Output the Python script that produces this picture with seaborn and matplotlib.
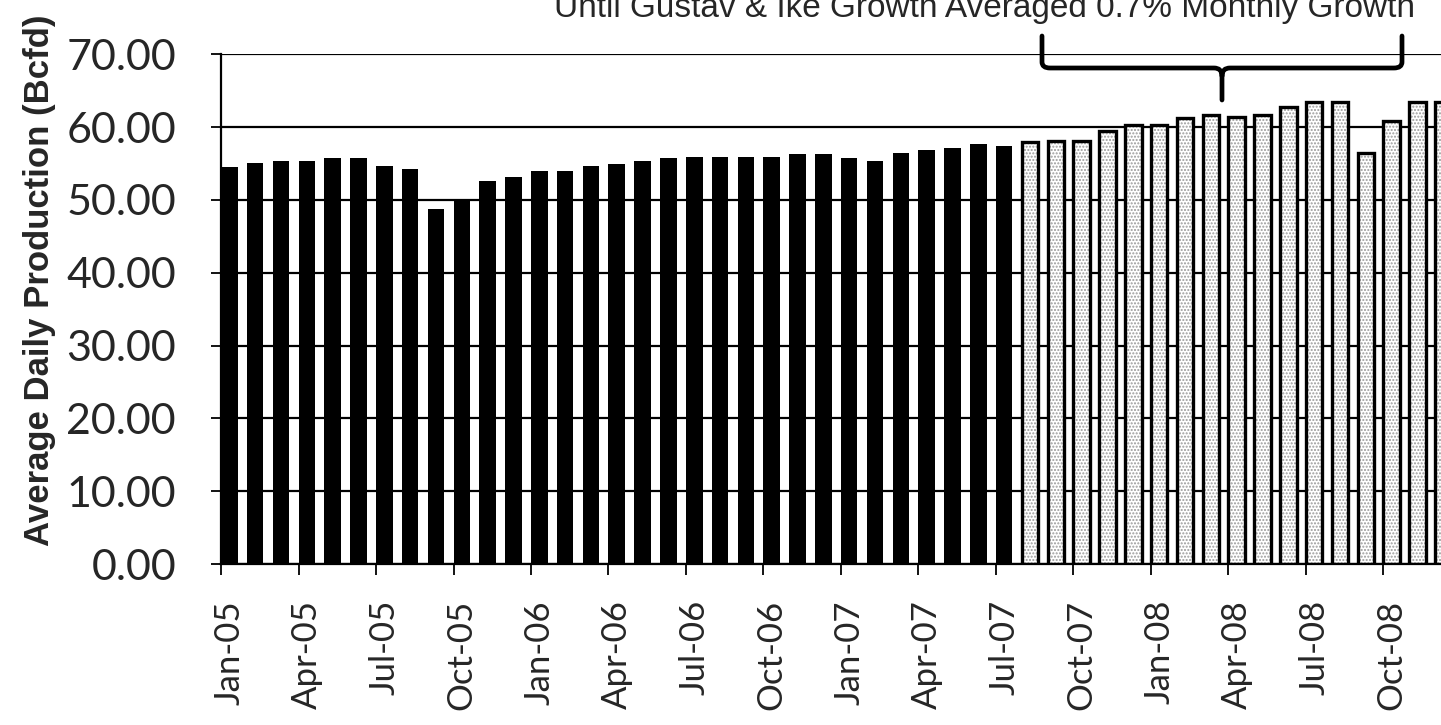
import matplotlib
matplotlib.use("Agg")
import matplotlib.pyplot as plt
from matplotlib.patches import Rectangle, PathPatch
from matplotlib.path import Path
import seaborn as sns
import pandas as pd

# Monthly average daily production, Jan-05 .. Dec-08 (Bcfd)
months = pd.date_range("2005-01-01", "2008-12-01", freq="MS").strftime("%b-%y").tolist()
history = [54.5, 55.1, 55.3, 55.3, 55.7, 55.7, 54.6, 54.2, 48.8, 50.0, 52.6, 53.1,
           54.0, 54.0, 54.6, 54.9, 55.4, 55.7, 55.9, 55.9, 55.9, 55.9, 56.3, 56.3,
           55.7, 55.3, 56.5, 56.8, 57.1, 57.7, 57.4]
recent = [57.9, 58.1, 58.1, 59.5, 60.3, 60.3, 61.3, 61.7, 61.4, 61.7, 62.8, 63.4,
          63.4, 56.5, 60.9, 63.4, 63.4]
phase = ["history"] * len(history) + ["recent"] * len(recent)
yticks = [0, 10, 20, 30, 40, 50, 60, 70]
title = "Until Gustav & Ike Growth Averaged 0.7% Monthly Growth"
ylabel = "Average Daily Production (Bcfd)"

df = pd.DataFrame({"month": months, "bcfd": history + recent, "phase": phase})

sns.set_theme(style="white")
plt.rcParams["font.family"] = ["Lato", "DejaVu Sans"]

W, H = 1441, 725
fig = plt.figure(figsize=(W / 100, H / 100), dpi=100)

x0_px, y0_px, ytop_px = 220.5, 564.0, 54.3
ax = fig.add_axes([x0_px / W, 1 - y0_px / H, (W - x0_px) / W, (y0_px - ytop_px) / H])

bar_w = 0.64
sns.barplot(data=df, x="month", y="bcfd", hue="phase",
            palette={"history": "black", "recent": "white"},
            dodge=False, width=bar_w, saturation=1, legend=False, ax=ax, zorder=2)

# stippled fill with a crisp black outline for the recent months
n_hist = len(history)
for p in list(ax.patches):
    cx = p.get_x() + p.get_width() / 2
    if cx > n_hist - 0.5:
        p.set_facecolor("white")
        p.set_edgecolor("#9a9a9a")
        p.set_hatch(".....")
        p.set_linewidth(0)
        ax.add_patch(Rectangle((p.get_x(), p.get_y()), p.get_width(), p.get_height(),
                               fill=False, edgecolor="black", linewidth=2.4, zorder=3))
    else:
        p.set_edgecolor("black")
        p.set_linewidth(0)

spacing = 25.83
ax.set_xlim(-(229.3 - x0_px) / spacing, (W - 229.3) / spacing)
ax.set_ylim(0, 70)

ax.set_yticks(yticks)
ax.set_yticklabels([f"{v:.2f}" for v in yticks], fontsize=31)
ax.tick_params(axis="y", direction="out", length=7, width=1.3, color="black", pad=25, left=True)

q_pos = list(range(0, len(months), 3))
ax.set_xticks(q_pos)
ax.set_xticklabels([months[i] for i in q_pos], rotation=90, fontsize=25)
ax.set_xticks([i - bar_w / 2 for i in q_pos], minor=True)
ax.tick_params(axis="x", which="major", length=0, pad=26)
ax.tick_params(axis="x", which="minor", direction="out", length=8, width=1.3,
               color="black", bottom=True)

ax.set_xlabel("")
ax.set_ylabel("")
ax.grid(axis="y", color="black", linewidth=1.6)
ax.grid(axis="x", visible=False)
ax.set_axisbelow(True)
for side in ("top", "right"):
    ax.spines[side].set_visible(False)
for side in ("left", "bottom"):
    ax.spines[side].set_color("black")
    ax.spines[side].set_linewidth(1.6)

fig.text(40 / W, 1 - 280 / H, ylabel, rotation=90, ha="center", va="center",
         fontsize=25, fontweight="bold", family=["Liberation Sans", "DejaVu Sans"])
fig.text(985 / W, 1 - 17 / H, title, ha="center", va="baseline",
         fontsize=24, family=["Liberation Sans", "DejaVu Sans"])


def fp(x, y):
    return (x / W, 1 - y / H)


# curly bracket over the growth period
verts = [fp(1042, 36), fp(1042, 62), fp(1042, 68), fp(1050, 68),
         fp(1214, 68), fp(1222, 68), fp(1222, 76), fp(1222, 100),
         fp(1222, 76), fp(1222, 68), fp(1230, 68),
         fp(1394, 68), fp(1402, 68), fp(1402, 62), fp(1402, 36)]
codes = [Path.MOVETO, Path.LINETO, Path.CURVE3, Path.CURVE3,
         Path.LINETO, Path.CURVE3, Path.CURVE3, Path.LINETO,
         Path.MOVETO, Path.CURVE3, Path.CURVE3,
         Path.LINETO, Path.CURVE3, Path.CURVE3, Path.LINETO]
brace = PathPatch(Path(verts, codes), fill=False, edgecolor="black", linewidth=3.4,
                  transform=fig.transFigure, capstyle="round", joinstyle="round")
fig.patches.append(brace)

fig.savefig("out.png", dpi=100)
